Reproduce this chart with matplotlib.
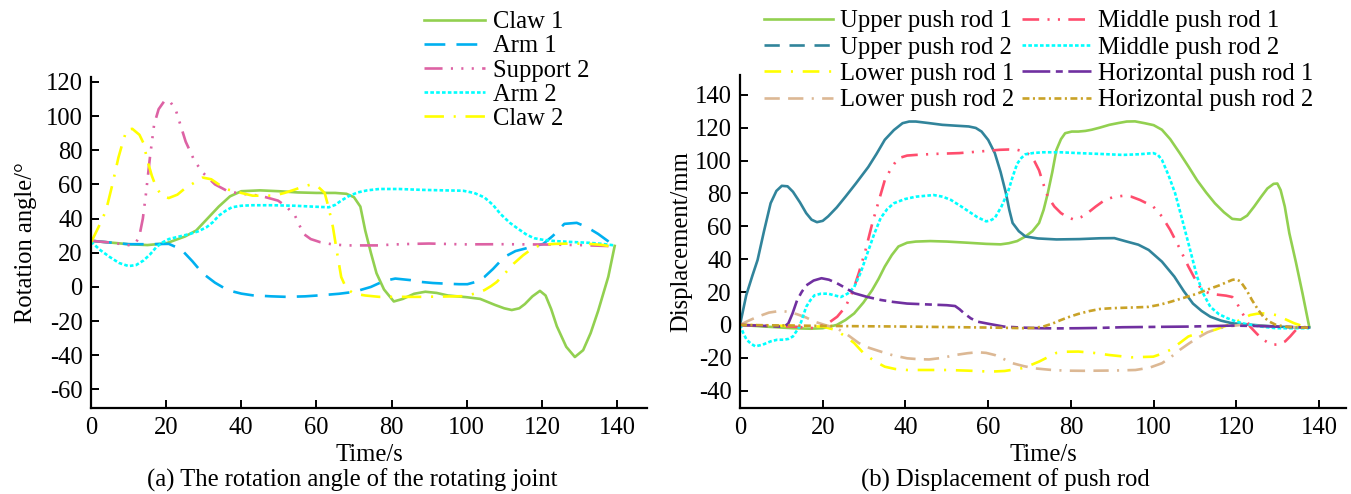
import matplotlib
matplotlib.use("Agg")
import matplotlib.pyplot as plt
from matplotlib.lines import Line2D

plt.rcParams['font.family'] = ['Liberation Serif', 'DejaVu Serif']
plt.rcParams['lines.scale_dashes'] = False
plt.rcParams['axes.unicode_minus'] = False
FS = 17.7

# ---------------- (a) rotation angle data ----------------
claw1_t = [0, 5, 10, 15, 20, 25, 28, 31, 34, 37, 40, 45, 50, 55, 60, 65, 68, 70, 71.7, 73, 74.5, 76, 78,
           80.6, 83, 86, 89, 92, 95, 100, 103.6, 107.5, 110, 112, 114, 115.5, 117.5, 119.5, 121, 122.5, 124,
           126.5, 128.8, 131, 133, 135, 137.7, 139.4]
claw1_v = [27, 26, 25, 24.5, 25.5, 29.5, 33, 40, 47, 53, 56, 56.5, 56, 55.3, 55, 55, 54.5, 52.5, 47, 33, 20, 8, -1.5,
           -8.5, -7, -4, -2.8, -3.5, -5, -6, -7, -10.5, -12.5, -13.5, -12.5, -10, -5.5, -2.3, -5, -13, -23,
           -35, -41, -37, -27, -14, 6, 24]

arm1_t = [0, 5, 10, 15, 20.7, 24, 27, 29.7, 33, 36.4, 40, 43, 48, 52, 57, 61, 66, 70, 74.5, 78, 81, 85, 88, 91,
          94.6, 98, 100.2, 102.5, 104.7, 107, 110, 113, 116, 120.4, 123, 126, 129.3, 132, 135, 137.5, 139.4]
arm1_v = [27, 26, 25, 25, 25.2, 22, 15, 8, 2.5, -1.9, -3.9, -4.9, -5.5, -5.8, -5.5, -4.9, -4, -2.9, 0, 3.5, 4.9,
          4, 2.9, 2.3, 1.9, 1.6, 1.6, 3, 5.8, 10.5, 17.5, 21, 22.7, 25.2, 30, 36.9, 37.5, 35, 31, 27, 23.3]

support2_t = [0, 5, 10.6, 12, 12.9, 13.8, 14.6, 15.7, 16.8, 18, 19.6, 21, 22.5, 25.2, 27.5, 29.7, 33, 36.4, 40,
              43, 46.5, 49.8, 52, 54.3, 55.5, 56.6, 58.5, 61, 64, 67.7, 72, 76.7, 80, 85.7, 90, 99, 110, 121.5,
              130, 139.4]
support2_v = [27, 26, 24.3, 26, 30, 40, 54, 76, 95, 104, 109, 108.5, 104, 85, 74, 67, 60, 56, 54.5, 54, 52.5,
              50.5, 47, 41.7, 36, 31, 28, 26.2, 25, 24.3, 24.3, 24.3, 24.8, 25.2, 25.4, 24.9, 25, 24.8, 24.5, 23.8]

arm2_t = [0, 2.5, 5, 7.5, 10, 12, 14, 15.7, 17.4, 19, 20.7, 23.5, 26.3, 28.5, 30.8, 32.5, 34, 35.8, 37.5, 40,
          43, 48, 54.3, 59, 63.3, 65, 66.6, 68.5, 71, 73.5, 76.7, 82, 88, 94, 99, 102, 104.7, 107, 109, 111.5,
          113.7, 116, 118, 120.5, 123.7, 128, 132.7, 136, 139.4]
arm2_v = [26.5, 21.5, 17.5, 14, 12.2, 12.8, 15.5, 19, 23.3, 26, 28, 29.5, 31, 32.5, 35, 38, 41.7, 44.5, 46.6,
          47.5, 47.8, 47.8, 47.5, 47, 46.6, 48, 50.5, 53, 55.3, 56.5, 57.3, 57.3, 56.8, 56.5, 56.3, 55, 52.4,
          48, 42.7, 37.5, 34, 30.5, 28.5, 27.5, 26.8, 26.3, 25.8, 25.2, 24.3]

claw2_t = [0, 2, 4, 5.7, 7.3, 8.5, 9.5, 11, 12.9, 14, 15, 16.2, 17.4, 19, 20.7, 23, 25.2, 27.5, 29.7, 32, 34,
           36.4, 40, 43, 48.7, 51.5, 54.3, 56.5, 58.8, 60.5, 62.2, 63.3, 64.4, 65.5, 66.6, 68, 70, 73, 76.7,
           82, 88, 94, 99, 102, 104.7, 106.5, 108, 110, 112.5, 115, 118, 120.5, 123.7, 128, 132.7, 136, 139.4]
claw2_v = [26, 35, 44.7, 60, 75.7, 85, 92, 92.5, 89, 84, 74, 65, 58, 53, 52, 54, 58, 61, 64, 63, 60, 57, 55,
           53.4, 53.4, 55, 57, 58.8, 60, 58.5, 55, 46, 35, 20, 5.8, -1, -3.9, -5, -5.8, -5.8, -5.8, -5.6, -5.4,
           -4, -1.9, 0.5, 2.9, 7.5, 13.6, 18.5, 23.3, 24.8, 25.2, 25.4, 25.2, 24.6, 23.3]

# ---------------- (b) push rod displacement data ----------------
upr1_t = [0, 6, 12.8, 17, 20, 23.4, 25.5, 27.6, 29.8, 31.9, 33.5, 35, 36.7, 38.3, 40.4, 42.5, 46, 50, 55,
          59.5, 63, 65, 67, 69, 70.7, 72.3, 73.4, 74.4, 75.5, 76.5, 77.6, 78.6, 80.2, 81.8, 83.5, 85, 87,
          89.3, 91.5, 93.5, 95.5, 97.8, 100, 102, 104, 106.3, 108.5, 110.5, 112.7, 114.8, 117, 119, 121,
          122.6, 124.3, 126, 127.5, 129, 129.9, 130.7, 131.7, 132.8, 134.4, 136, 137.6]
upr1_v = [0, -1, -2, -2.3, -2, 0, 3, 7, 13.5, 21, 28, 35.5, 42.5, 47.7, 50, 50.7, 51, 50.7, 50, 49.3, 49,
          49.7, 51, 53.8, 57, 62, 70, 80, 93, 106.5, 113, 116.6, 117.6, 117.6, 118, 118.7, 120, 121.7, 122.8,
          123.7, 123.8, 122.7, 121.5, 118.7, 113, 104.5, 96, 88, 80.5, 74, 68.5, 64.5, 64, 66.5, 72, 78, 83,
          85.8, 86, 82, 72, 55.8, 38, 19, -1]

upr2_t = [0, 1.5, 3, 4.25, 5.8, 7.4, 8.8, 10.1, 11.5, 12.8, 14.5, 16, 17.3, 18.6, 20, 21.3, 23.4, 25.5, 28,
          31, 33, 35, 37.2, 39.3, 40.9, 42.5, 45.5, 48.9, 52, 55.3, 57, 58.4, 60, 61.6, 63, 64.3, 65.1, 65.9,
          67.4, 69, 72, 76.5, 82, 87, 90.5, 93.5, 96.3, 98.8, 102, 105, 107.3, 109.5, 111.6, 113.7, 116.3,
          119, 124, 129.6, 134, 137.6]
upr2_v = [0, 18, 30, 39.5, 57, 74, 81.5, 84.6, 84.3, 81, 74.5, 68, 64, 62.5, 63.3, 66, 71.5, 78, 86, 96, 104,
          112.6, 118.5, 122.7, 123.7, 123.7, 122.8, 121.7, 121.2, 120.7, 119.8, 117.6, 112.5, 104.5, 93, 80,
          70, 62, 57, 53.8, 52.6, 52, 52.2, 52.7, 52.8, 50.7, 48.8, 45.6, 38.5, 29.4, 20.5, 13, 8.5, 5, 2.6,
          1, 0, -1, -1.4, -1.6]

lpr1_t = [0, 10, 20, 23, 25.5, 27.6, 29.8, 32.5, 35, 37.5, 40.4, 45, 50, 55, 60.6, 64, 68, 70.2, 72.3, 74.5,
          76.5, 79, 81.8, 85.5, 89.3, 94.6, 99.9, 102, 104, 106.3, 108.4, 111.5, 114.8, 117.5, 120, 121.7,
          123.3, 125, 126.5, 128, 129.6, 131.8, 134, 135.8, 137.6]
lpr1_v = [0, -0.5, -1, -3, -7, -11, -17, -22, -25.4, -26.8, -27.4, -27.4, -27.4, -27.8, -28.4, -28, -26.4,
          -24.5, -22.3, -19.5, -17, -16.3, -16.2, -17, -18.3, -19.7, -19.3, -17.5, -15.2, -11, -7, -4.5, -3,
          -0.5, 2, 4, 6, 6.8, 7, 6.8, 6, 3.5, 1, -0.5, -1]

lpr2_t = [0, 2, 4.25, 7, 9.6, 11.7, 13.8, 16, 18, 20.5, 23.4, 26, 28.7, 31.3, 34, 37, 40.4, 43, 45.7, 49, 52,
          55, 57.4, 59.5, 61.6, 63.8, 65.9, 68.5, 71.2, 75, 78.6, 83, 87, 91, 95.6, 99, 102, 104.2, 106.3,
          108.4, 110.5, 113, 115.8, 118.5, 121, 125, 129.6, 134, 137.6]
lpr2_v = [0, 2.5, 5, 7.5, 8.5, 8, 6.5, 4.5, 2, 0, -2, -6, -11, -14, -16.2, -18.5, -20.3, -20.8, -21, -20,
          -18.3, -17.2, -16.6, -17, -18.3, -20.8, -23.3, -25, -26.4, -27.3, -27.8, -27.9, -27.8, -27.7, -27.4,
          -26, -23.3, -19.5, -15.2, -11.5, -8, -4.5, -2, -0.8, 0, -0.5, -1, -1.4, -1.6]

mpr1_t = [0, 6, 12.8, 18, 21.3, 23.5, 25.5, 27.2, 28.7, 30.4, 32, 33.5, 35, 36.7, 38.3, 40.4, 42.5, 47, 53,
          58, 62.7, 65, 67, 68.6, 70.1, 71.2, 72.3, 73.3, 74.4, 76, 77.6, 79.2, 80.8, 82.4, 84, 86, 88.2,
          90.3, 92.5, 94.6, 96.7, 98.3, 99.9, 102, 104, 106.2, 108.4, 110, 111.6, 113.7, 115.8, 117.5, 119,
          120, 121, 122.2, 123.3, 125, 126.5, 128, 129, 130.4, 131.8, 133, 134.4, 136, 137.6]
mpr1_v = [0, -0.5, -1, -2, 1, 5, 11, 20, 31.4, 46, 62, 75, 88, 96, 101.4, 103, 103.4, 104, 104.5, 105.5,
          106.5, 106.7, 106.5, 105.5, 103.4, 99.5, 94, 86, 78, 72, 68, 65.5, 64, 65.5, 68, 72, 76, 77.8, 78.5,
          78, 76, 74, 72, 66, 57.8, 47, 35.5, 28, 21.3, 19, 18.3, 17.8, 17, 14, 9, 4, -1, -5.5, -9, -11.3,
          -12, -11.8, -10, -7, -3, -1.5, -1]

mpr2_t = [0, 0.8, 1.6, 2.7, 3.7, 5.5, 7.4, 9, 10.6, 11.7, 12.8, 14.4, 16, 17, 18, 19.6, 21.3, 22.8, 24.4, 26,
          27.6, 29.2, 30.8, 32.4, 34, 35.6, 37.2, 39.8, 42.5, 44.7, 46.8, 49, 51, 53.2, 55.3, 57.4, 59.5,
          60.5, 61.6, 63.2, 64.8, 65.9, 67, 68, 69, 71, 73.3, 77.5, 81.8, 87, 92.5, 96.5, 99.9, 101, 102,
          103.6, 105.2, 106.8, 108.4, 109.5, 110.5, 112, 113.7, 115.8, 117.9, 120, 122.2, 126, 129.6, 133.6,
          137.6]
mpr2_v = [0, -5, -9, -11.5, -13, -12, -10, -9, -9, -8.5, -7, -1, 11, 15, 18, 19, 19, 18, 17, 19, 23, 32,
          43.6, 55, 65, 70.5, 74, 76.5, 78, 78.5, 79, 78, 76, 72.5, 69, 65.5, 63, 63.5, 65, 72, 81, 90, 98,
          101.5, 103.8, 104.6, 105, 105, 104.5, 104, 103.4, 103.8, 104.5, 103.5, 100.4, 91, 80, 65, 49.7, 39,
          29.4, 19, 11, 6.5, 4, 2, 0.6, -1, -2, -2, -2]

hpr1_t = [0, 5, 9.6, 11, 11.7, 12.7, 13.8, 14.9, 16, 17.8, 19.7, 21.5, 23.4, 25.5, 27.6, 30.8, 34, 37, 40.4,
          45, 50, 52, 53.1, 54.2, 55.8, 57.4, 60.5, 63.8, 68, 72.3, 77, 81.8, 87, 92.5, 100, 108.4, 114, 119,
          124, 129.6, 133.6, 137.6]
hpr1_v = [0, -0.5, -1, -0.5, 1, 7, 15, 20, 24, 27, 28.4, 27.5, 25.4, 22.5, 19.3, 17, 15.2, 14, 13, 12.5, 12,
          11.5, 9.5, 7, 4, 2, 0.5, -1, -1.6, -2, -2.1, -2, -1.8, -1.4, -1.2, -1, -0.7, -0.4, -0.6, -1, -1.3,
          -1.6]

hpr2_t = [0, 10, 20, 30, 40.4, 50, 60.6, 65, 69, 71, 73.3, 75.5, 77.6, 79.7, 81.8, 84.4, 87, 90, 93.5, 96,
          98.8, 101.5, 104, 107.3, 110.5, 113, 115.8, 117.5, 119, 120, 121, 122.5, 123.8, 125.2, 126.5, 128,
          129.6, 131.8, 134, 137.6]
hpr2_v = [0, -0.3, -0.6, -0.8, -1, -1.3, -1.6, -1.8, -2, -1.8, -1, 0.8, 3, 5, 6.7, 8.4, 9.7, 10.2, 10.5,
          10.7, 11, 12.3, 14, 16.5, 19, 21.5, 24, 25.8, 27.4, 27.8, 26.4, 21, 15, 9.5, 5, 2, 0, -1, -1.6, -1.6]

xticks = [0, 20, 40, 60, 80, 100, 120, 140]
yticks_a = [120, 100, 80, 60, 40, 20, 0, -20, -40, -60]
yticks_b = [140, 120, 100, 80, 60, 40, 20, 0, -20, -40]

# ---------------- figure ----------------
W, H = 1351, 494
fig = plt.figure(figsize=(W / 100, H / 100), dpi=100)

def fx(px):
    return px / W

def fy(py):
    return 1 - py / H

axa = fig.add_axes([fx(91), fy(408.3), fx(647 - 91), (408.3 - 76.7) / H])
axb = fig.add_axes([fx(740), fy(408.3), fx(1346 - 740), (408.3 - 75) / H])

LW = 1.9

def style(ax):
    for s in ['top', 'right']:
        ax.spines[s].set_visible(False)
    for s in ['left', 'bottom']:
        ax.spines[s].set_linewidth(1.6)
    ax.tick_params(direction='in', length=5.5, width=1.4, labelsize=FS, pad=6)
    ax.set_xticks(xticks)

# (a)
axa.plot(claw1_t, claw1_v, color='#92d050', lw=LW, label='Claw 1')
axa.plot(arm1_t, arm1_v, color='#00b0f0', lw=LW, dashes=(15, 8), label='Arm 1')
axa.plot(support2_t, support2_v, color='#dd62a4', lw=LW,
         dashes=(13, 6, 1.5, 6, 1.5, 6, 1.5, 6), label='Support 2')
axa.plot(arm2_t, arm2_v, color='#00ffff', lw=LW, dashes=(2.6, 1.6), label='Arm 2')
axa.plot(claw2_t, claw2_v, color='#ffff00', lw=LW, dashes=(14, 7, 1.5, 7), label='Claw 2')
style(axa)
axa.set_xlim(0, 148)
axa.set_ylim(-71, 123)
axa.set_yticks(yticks_a)
axa.set_ylabel('Rotation angle/°', fontsize=FS, labelpad=6)

fig.legend(handles=axa.get_lines(), loc='upper left', bbox_to_anchor=(fx(424), fy(11)),
           frameon=False, fontsize=FS, handlelength=2.5, handletextpad=0.3,
           labelspacing=0.08, borderpad=0, borderaxespad=0)

# (b)
l1, = axb.plot(upr1_t, upr1_v, color='#92d050', lw=LW)
l2, = axb.plot(upr2_t, upr2_v, color='#31849b', lw=LW)
l3, = axb.plot(lpr1_t, lpr1_v, color='#ffff00', lw=LW, dashes=(12, 7, 1.5, 7))
l4, = axb.plot(lpr2_t, lpr2_v, color='#dcb894', lw=LW, dashes=(11, 6, 11, 6, 1.5, 6))
l5, = axb.plot(mpr1_t, mpr1_v, color='#ff4d6d', lw=LW, dashes=(12, 6, 1.5, 6, 1.5, 6))
l6, = axb.plot(mpr2_t, mpr2_v, color='#00ffff', lw=LW, dashes=(2.6, 1.6))
l7, = axb.plot(hpr1_t, hpr1_v, color='#7030a0', lw=LW, dashes=(20, 4, 5, 4))
l8, = axb.plot(hpr2_t, hpr2_v, color='#c9a227', lw=LW, dashes=(5, 2.5, 1.5, 2.5))
style(axb)
axb.set_xlim(0, 146.5)
axb.set_ylim(-50.7, 152)
axb.set_yticks(yticks_b)
axb.set_ylabel('Displacement/mm', fontsize=FS, labelpad=1.5)

names_b = ['Upper push rod 1', 'Upper push rod 2', 'Lower push rod 1', 'Lower push rod 2',
           'Middle push rod 1', 'Middle push rod 2', 'Horizontal push rod 1', 'Horizontal push rod 2']
proxy2 = Line2D([], [], color='#31849b', lw=LW, dashes=(11, 7))
handles_b = [l1, proxy2, l3, l4, l5, l6, l7, l8]
fig.legend(handles=handles_b, labels=names_b, loc='upper left', bbox_to_anchor=(fx(764), fy(10)),
           ncol=2, frameon=False, fontsize=FS, handlelength=2.8, handletextpad=0.3,
           labelspacing=0.17, columnspacing=0.3, borderpad=0, borderaxespad=0)

for ax in (axa, axb):
    ax.set_xlabel('Time/s', fontsize=FS, labelpad=4)

fig.text(fx(352), fy(480), '(a) The rotation angle of the rotating joint', fontsize=FS,
         ha='center', va='center')
fig.text(fx(1005), fy(480), '(b) Displacement of push rod', fontsize=FS,
         ha='center', va='center')

fig.savefig('out.png', dpi=100)
